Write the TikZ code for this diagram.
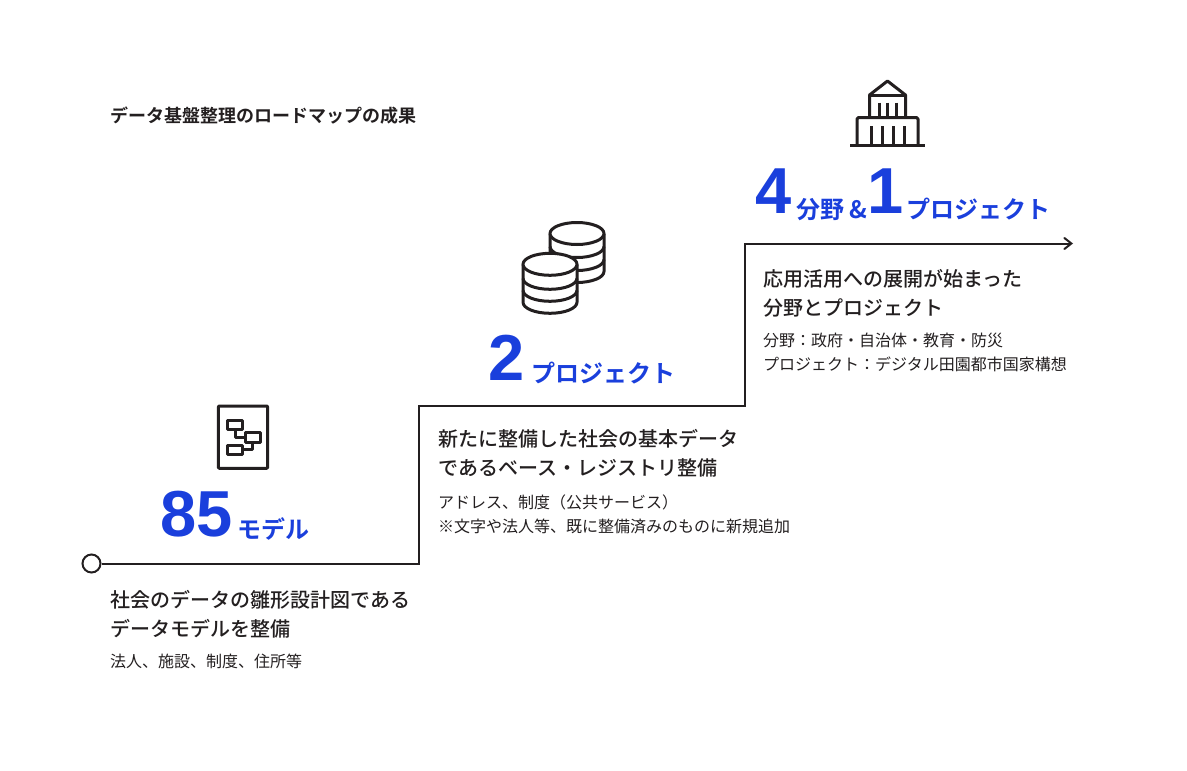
\documentclass[tikz,border=0pt]{standalone}
\usepackage{fontspec}
\usetikzlibrary{arrows.meta}
\newfontfamily\jpfont{Noto Sans CJK JP}
\newfontfamily\jpmedium{Noto Sans CJK JP Medium}
\newfontfamily\jpbold{Noto Sans CJK JP Bold}
\newfontfamily\numfont[BoldFont={Liberation Sans Bold}]{Liberation Sans}
\definecolor{inkline}{HTML}{231F20}
\definecolor{inkblue}{HTML}{1A3FDC}
\tikzset{
    titletext/.style={anchor=base west,inner sep=0,text=inkline,font=\jpbold\fontsize{18}{18}\selectfont},
    headtext/.style={anchor=west,inner sep=0,align=left,text=inkline,font=\jpmedium\fontsize{20}{29}\selectfont},
    subtext/.style={anchor=west,inner sep=0,align=left,text=inkline,font=\jpfont\fontsize{16}{24.5}\selectfont},
    bignum/.style={anchor=base west,inner sep=0,text=inkblue,font=\numfont\bfseries\fontsize{65}{65}\selectfont},
    unittext/.style={anchor=base west,inner sep=0,text=inkblue,font=\jpbold\fontsize{24}{24}\selectfont},
    stepline/.style={line width=2pt,draw=inkline},
    iconline/.style={line width=3pt,draw=inkline,line join=round},
    startdot/.style={circle,draw=inkline,line width=2pt,fill=white,minimum size=18pt,inner sep=0},
}
\begin{document}
\begin{tikzpicture}[x=1pt,y=-1pt]

    \useasboundingbox (0,0) rectangle (1187,771);

    \node [titletext] (title) at (110,122) {データ基盤整理のロードマップの成果};

    % stairs
    \node [startdot] (start) at (91.5,563.5) {};
    \coordinate (stepa) at (419,563.5);
    \coordinate (stepb) at (419,406);
    \coordinate (stepc) at (745,406);
    \coordinate (stepd) at (745,243.5);
    \coordinate (stepe) at (1073,243.5);
    \draw [stepline,-{Straight Barb[length=7pt,width=11pt,line cap=round]}] (start) -- (stepa) -- (stepb) -- (stepc) -- (stepd) -- (stepe);

    % first step
    \node [bignum] (numa) at (160,536) {85};
    \node [unittext] (unita) at (237,538) {モデル};
    \node [headtext] (heada) at (110,614) {社会のデータの雛形設計図である\\データモデルを整備};
    \node [subtext] (suba) at (110,661) {法人、施設、制度、住所等};

    % second step
    \node [bignum] (numb) at (488.5,380) {2};
    \node [unittext] (unitb) at (531,382) {プロジェクト};
    \node [headtext] (headb) at (438,453.5) {新たに整備した社会の基本データ\\であるベース・レジストリ整備};
    \node [subtext] (subb) at (438,514.5) {アドレス、制度（公共サービス）\\※文字や法人等、既に整備済みのものに新規追加};

    % third step
    \node [bignum] (numc) at (755,213.5) {4};
    \node [unittext] (unitc) at (796,218) {分野};
    \node [unittext] (amp) at (849,218) {\&};
    \node [bignum] (numd) at (867,213.5) {1};
    \node [unittext] (unitd) at (906.5,218) {プロジェクト};
    \node [headtext] (headc) at (763,293) {応用活用への展開が始まった\\分野とプロジェクト};
    \node [subtext] (subc) at (763,352.5) {分野：政府・自治体・教育・防災\\プロジェクト：デジタル田園都市国家構想};

    % document icon
    \draw [iconline,rounded corners=1pt] (218.3,406) rectangle (267.7,468.3);
    \draw [iconline] (227.7,420) rectangle (242.3,429.3);
    \draw [iconline] (245.7,432.7) rectangle (260,442.3);
    \draw [iconline] (227.7,445) rectangle (242.3,454.3);
    \draw [iconline] (235,429.3) -- (235,437.3) -- (245.7,437.3);
    \draw [iconline] (252.8,442.3) -- (252.8,449.3) -- (242.3,449.3);

    % database icon
    \begin{scope}[shift={(577,233.5)}]
        \draw [iconline,fill=white] (-27,0) -- (-27,38) arc (180:0:27 and 11) -- (27,0);
        \draw [iconline,fill=white] (0,0) ellipse (27 and 11);
        \draw [iconline] (-27,13) arc (180:0:27 and 11);
        \draw [iconline] (-27,26) arc (180:0:27 and 11);
    \end{scope}
    \begin{scope}[shift={(550,264.3)}]
        \draw [iconline,fill=white] (-27,0) -- (-27,38) arc (180:0:27 and 11) -- (27,0);
        \draw [iconline,fill=white] (0,0) ellipse (27 and 11);
        \draw [iconline] (-27,14) arc (180:0:27 and 11);
        \draw [iconline] (-27,26) arc (180:0:27 and 11);
    \end{scope}

    % building icon
    \draw [iconline] (850,145.5) -- (925,145.5);
    \draw [iconline,rounded corners=1.5pt] (857,145.5) -- (857,117.5) -- (918,117.5) -- (918,145.5);
    \draw [iconline] (869.5,117.5) -- (869.5,95) -- (887.5,81) -- (905.5,95) -- (905.5,117.5);
    \draw [iconline] (869.5,95) -- (905.5,95);
    \foreach \px in {879,887.5,896}
        \draw [iconline] (\px,102.5) -- (\px,117.5);
    \foreach \px in {871,882,893,904}
        \draw [iconline] (\px,126) -- (\px,145.5);

\end{tikzpicture}
\end{document}
